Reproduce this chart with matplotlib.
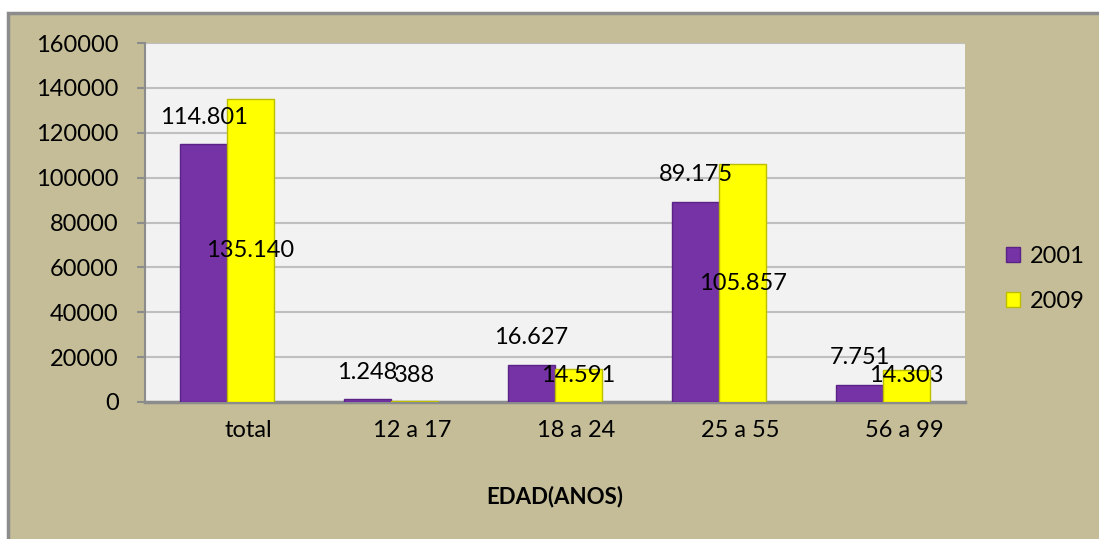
import numpy as np
import matplotlib.pyplot as plt
from matplotlib.patches import Rectangle
from matplotlib.transforms import ScaledTranslation

plt.rcParams['font.family'] = ['Lato', 'DejaVu Sans']

# data
categories = ["total", "12 a 17", "18 a 24", "25 a 55", "56 a 99"]
v2001 = [114801, 1248, 16627, 89175, 7751]
v2009 = [135140, 388, 14591, 105857, 14303]
labels2001 = ["114.801", "1.248", "16.627", "89.175", "7.751"]
labels2009 = ["135.140", "388", "14.591", "105.857", "14.303"]
yticks = [0, 20000, 40000, 60000, 80000, 100000, 120000, 140000, 160000]

tan = "#C4BD97"
purple = "#7533A6"
yellow = "#FFFF00"

fig = plt.figure(figsize=(10.99, 5.39), dpi=100)
fig.patch.set_facecolor("white")
# chart area with gray border
fig.patches.append(Rectangle((8 / 1099, -0.05), 1.1, (539 - 13) / 539 + 0.05,
                             transform=fig.transFigure, facecolor=tan,
                             edgecolor="#8C8C8C", linewidth=2.5, zorder=-10))

ax = fig.add_axes([145 / 1099, (539 - 402) / 539, 820 / 1099, 359 / 539])
ax.set_facecolor("#F2F2F2")

x = np.arange(len(categories))
w = 0.287
b1 = ax.bar(x - w / 2, v2001, w, color=purple, edgecolor="#5A2385", linewidth=1, label="2001", zorder=3)
b2 = ax.bar(x + w / 2, v2009, w, color=yellow, edgecolor="#BDBD00", linewidth=1, label="2009", zorder=3)

fs = 17
for xi, v, t in zip(x, v2001, labels2001):
    ax.annotate(t, (xi - w / 2, v), xytext=(0, 19.5), textcoords="offset points",
                ha="center", va="center", fontsize=fs, zorder=5)
for xi, v, t in zip(x, v2009, labels2009):
    ax.text(xi + w / 2, max(v / 2, 12000), t, ha="center", va="center", fontsize=fs, zorder=5)

ax.set_xlim(-0.5, len(categories) - 0.5)
ax.set_ylim(0, 160000)
ax.set_yticks(yticks)
ax.set_yticklabels([str(t) for t in yticks], fontsize=fs)
ax.set_xticks(x)
ax.set_xticklabels(categories, fontsize=fs)
ax.tick_params(axis="x", length=0, pad=13)
ax.tick_params(axis="y", length=6, width=1.5, color="#8C8C8C", pad=13)
offset = ScaledTranslation(0.21, 0, fig.dpi_scale_trans)
for lbl in ax.get_xticklabels():
    lbl.set_transform(lbl.get_transform() + offset)

ax.grid(axis="y", color="#BFBFBF", linewidth=1.5, zorder=0)
ax.set_axisbelow(True)
for s in ["top", "right"]:
    ax.spines[s].set_visible(False)
ax.spines["left"].set_color("#8C8C8C")
ax.spines["left"].set_linewidth(1.5)
ax.spines["bottom"].set_color("#8C8C8C")
ax.spines["bottom"].set_linewidth(2.5)

fig.text(555 / 1099, 1 - 497 / 539, "EDAD(ANOS)", ha="center", va="center",
         fontsize=16, fontweight="bold")

fig.legend(handles=[b1, b2], loc="center left", bbox_to_anchor=(985 / 1099, 1 - 279 / 539),
           frameon=False, fontsize=17, handlelength=0.6, handleheight=0.6,
           handletextpad=0.4, labelspacing=1.0)

fig.savefig("out.png", dpi=100)
